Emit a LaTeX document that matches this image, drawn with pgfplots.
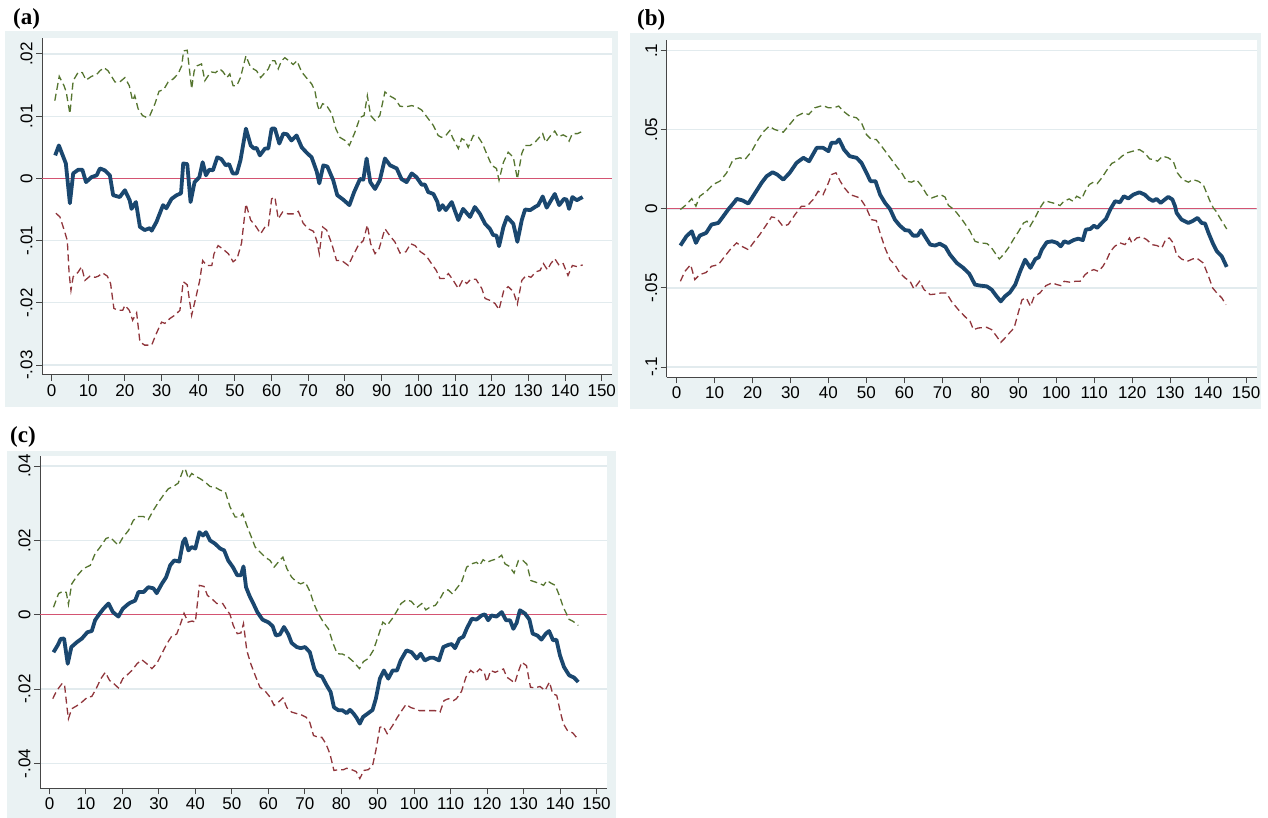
\documentclass[border=0pt]{standalone}
\usepackage{pgfplots}
\pgfplotsset{compat=1.18}
\usepackage{fontspec}
\setmainfont{Liberation Sans}
\newfontfamily\titlefont{Liberation Serif}
\definecolor{bgc}{RGB}{234,242,243}
\definecolor{gridc}{RGB}{226,235,238}
\definecolor{navyc}{RGB}{26,71,111}
\definecolor{greenc}{RGB}{85,117,47}
\definecolor{maroonc}{RGB}{144,53,59}
\definecolor{zeroc}{RGB}{212,84,114}
\definecolor{axisc}{RGB}{70,70,70}
\pgfplotsset{stata/.style={
  scale only axis, anchor=south west,
  axis x line=bottom, axis y line=left,
  axis line style={-, draw=axisc, line width=1pt},
  tick align=outside, major tick length=6pt,
  tick style={draw=axisc, line width=1pt},
  xmin=-2.6, xmax=152.8,
  xtick={0,10,20,30,40,50,60,70,80,90,100,110,120,130,140,150},
  xticklabels={0,10,20,30,40,50,60,70,80,90,100,110,120,130,140,150},
  scaled y ticks=false,
  ymajorgrids, grid style={draw=gridc, line width=1.3pt},
  axis background/.style={fill=white},
  ticklabel style={font=\fontsize{17}{17}\selectfont, text=black},
  yticklabel style={rotate=90, anchor=south},
  mainl/.style={navyc, line width=3.8pt, line join=round, no marks},
  upl/.style={greenc, line width=1.3pt, dash pattern=on 7pt off 4pt, no marks},
  lol/.style={maroonc, line width=1.3pt, dash pattern=on 7pt off 4pt, no marks},
  zerol/.style={zeroc, line width=1.1pt, no marks},
}}
\begin{document}
\begin{tikzpicture}
\path[use as bounding box] (0pt,0pt) rectangle (1268pt,818pt);
\fill[bgc] (5pt,411pt) rectangle (618pt,787pt);
\fill[bgc] (630pt,409pt) rectangle (1261pt,785pt);
\fill[bgc] (7pt,0pt) rectangle (616pt,367pt);
\node[anchor=base west, inner sep=0pt, font=\titlefont\bfseries\fontsize{23}{23}\selectfont] at (13pt,793pt) {(a)};
\node[anchor=base west, inner sep=0pt, font=\titlefont\bfseries\fontsize{23}{23}\selectfont] at (637pt,792pt) {(b)};
\node[anchor=base west, inner sep=0pt, font=\titlefont\bfseries\fontsize{23}{23}\selectfont] at (10pt,375pt) {(c)};

% ---------------- (a)
\begin{axis}[stata, at={(42pt,443pt)}, width=570pt, height=337pt,
  ymin=-0.0316, ymax=0.02257,
  ytick={-0.03,-0.02,-0.01,0,0.01,0.02},
  yticklabels={-.03,-.02,-.01,0,.01,.02}]
\addplot[zerol] coordinates {(-2.6,0) (152.8,0)};
\addplot[upl] coordinates {(0.9,0.0125) (2.1,0.0164) (3.4,0.0149) (4,0.0139) (5,0.0104) (5.9,0.0157) (7.3,0.0171) (8.4,0.017) (9.4,0.0158) (10.9,0.0164) (12.3,0.0167) (13.2,0.0173) (14.3,0.0178) (15.4,0.0173) (17.3,0.0155) (18.6,0.0155) (20,0.0162) (21.2,0.0149) (22.1,0.0125) (22.7,0.0133) (23.6,0.0112) (24.8,0.0101) (25.9,0.0098) (26.8,0.0101) (28.2,0.012) (29.3,0.014) (30.6,0.0143) (31.8,0.0155) (33.2,0.016) (34.5,0.0168) (35.5,0.0181) (36,0.0205) (37,0.0206) (38.2,0.0144) (38.9,0.0173) (39.7,0.0181) (40.9,0.0184) (41.8,0.0157) (42.7,0.0165) (43.6,0.0171) (44.7,0.017) (45.9,0.0176) (46.8,0.0171) (47.8,0.0162) (48.6,0.0168) (49.5,0.0149) (50.5,0.0149) (51.5,0.0162) (53,0.0197) (54.1,0.0181) (55,0.0176) (55.9,0.0173) (57,0.0162) (58.2,0.017) (59.1,0.0176) (60,0.0189) (60.9,0.0189) (61.8,0.0176) (62.7,0.0189) (63.6,0.0194) (64.5,0.019) (65.9,0.0183) (66.9,0.0189) (68.2,0.0171) (69.6,0.0161) (70.9,0.0152) (71.8,0.0141) (72.5,0.0118) (73,0.0109) (73.9,0.012) (74.9,0.0118) (76.4,0.0104) (77.5,0.008) (78.6,0.0066) (80,0.0061) (81.2,0.0053) (82.7,0.0074) (84.1,0.0098) (85.2,0.0101) (86.1,0.0133) (87,0.0101) (88.2,0.0093) (89.5,0.0101) (90.9,0.0139) (92.1,0.0133) (93.6,0.0128) (95,0.0116) (96.6,0.0115) (98.2,0.0117) (99.5,0.0115) (100.9,0.011) (102.7,0.0096) (104.1,0.0085) (105.4,0.0069) (106.3,0.0066) (107.5,0.0069) (108.6,0.0077) (109.3,0.0066) (110.9,0.0048) (111.8,0.0064) (112.7,0.0061) (113.6,0.005) (115,0.0069) (116.4,0.0066) (117.5,0.0056) (118.6,0.004) (120,0.0021) (121.3,0.0016) (122,-0.0003) (123.2,0.0026) (124.5,0.0042) (125.9,0.0034) (127,-0.0001) (128.2,0.004) (129.1,0.0053) (130.5,0.0053) (131.8,0.0058) (133,0.0066) (133.9,0.0072) (134.7,0.0058) (136.1,0.0069) (137.2,0.0076) (138.1,0.0067) (139.5,0.007) (140.4,0.0067) (141.1,0.006) (142,0.0072) (143.4,0.0072) (144.5,0.0075)};
\addplot[lol] coordinates {(1.2,-0.0056) (2.3,-0.0062) (3.6,-0.0086) (4.3,-0.01) (4.8,-0.0153) (5.3,-0.018) (5.9,-0.0158) (7.2,-0.0151) (8.2,-0.0142) (9.1,-0.0164) (10.5,-0.0157) (11.9,-0.0159) (12.8,-0.0157) (13.9,-0.0152) (15.2,-0.0157) (16.1,-0.0169) (17,-0.0209) (18.2,-0.0212) (19.4,-0.0212) (20,-0.0204) (21.2,-0.0212) (22.1,-0.0228) (23.2,-0.0216) (24.1,-0.0263) (25.4,-0.0268) (27.3,-0.0268) (28.6,-0.0249) (30,-0.0231) (30.9,-0.0233) (32.3,-0.0225) (33.6,-0.022) (35,-0.0212) (35.9,-0.0166) (37,-0.0171) (38.2,-0.022) (39.4,-0.019) (40.4,-0.0164) (41.2,-0.0132) (42.3,-0.014) (43.7,-0.014) (44.3,-0.0121) (45.4,-0.0108) (46.6,-0.0113) (48.2,-0.0121) (49.5,-0.0134) (50.6,-0.0129) (51.8,-0.0104) (53,-0.0041) (54.3,-0.0067) (55.8,-0.0078) (57,-0.0089) (58.2,-0.0078) (59.1,-0.0078) (60,-0.0033) (60.9,-0.003) (61.8,-0.0065) (63,-0.0054) (64.5,-0.0057) (65.9,-0.0057) (67.3,-0.0053) (68.6,-0.0072) (70,-0.0081) (71.4,-0.0085) (72.3,-0.01) (73,-0.0121) (73.9,-0.0078) (75,-0.0083) (76.4,-0.0105) (77.7,-0.0132) (79.1,-0.0132) (80.9,-0.014) (82.2,-0.0124) (83.6,-0.0108) (85,-0.01) (86.1,-0.0075) (87,-0.0105) (88.2,-0.0121) (89.3,-0.0113) (90.9,-0.0081) (92.1,-0.0091) (93.6,-0.0102) (95,-0.012) (96.6,-0.0118) (97.9,-0.0105) (99.1,-0.0108) (100.6,-0.0118) (102.1,-0.0124) (103.6,-0.0137) (104.9,-0.0148) (105.9,-0.0161) (107,-0.0161) (108.2,-0.0153) (109.3,-0.0162) (110.9,-0.0177) (112.1,-0.0163) (113.2,-0.0169) (114.3,-0.0162) (115.7,-0.0162) (117.3,-0.0177) (118.2,-0.0193) (119.5,-0.0196) (120.9,-0.0201) (122,-0.0211) (123.3,-0.018) (124.5,-0.0174) (125.9,-0.0182) (127,-0.0202) (128.2,-0.0164) (129.4,-0.0156) (130.7,-0.0159) (132.1,-0.015) (133.2,-0.0148) (134.1,-0.0137) (135.2,-0.0147) (136.1,-0.0137) (137.2,-0.0129) (138.4,-0.014) (139.5,-0.0137) (140.8,-0.0156) (142,-0.014) (143.4,-0.0142) (144.8,-0.0139)};
\addplot[mainl] coordinates {(1,0.0037) (2,0.0053) (3.9,0.0024) (5,-0.004) (5.9,0.0008) (7.3,0.0014) (8.4,0.0014) (9.4,-0.0006) (10.9,0.0002) (12.3,0.0005) (13.2,0.0016) (14.5,0.0013) (15.9,0.0005) (16.8,-0.0027) (18.6,-0.003) (20,-0.0019) (21.3,-0.0035) (21.8,-0.0049) (23,-0.0038) (24.1,-0.0078) (25.4,-0.0083) (26.8,-0.008) (27.3,-0.0084) (28.6,-0.007) (30.4,-0.0043) (31.3,-0.0048) (32.7,-0.0033) (34.1,-0.0027) (35.3,-0.0024) (35.9,0.0024) (37,0.0023) (37.9,-0.0038) (39,-0.0006) (40.3,0.0002) (41.2,0.0026) (42.1,0.0005) (43,0.0014) (44,0.0013) (45.2,0.0034) (46.3,0.0031) (47.5,0.0021) (48.4,0.0023) (49.4,0.0008) (50.5,0.0008) (51.5,0.0029) (53,0.008) (54.3,0.0053) (55.2,0.0048) (55.9,0.0049) (56.8,0.0037) (58.2,0.0048) (59.1,0.0048) (60,0.008) (60.9,0.008) (62.1,0.0056) (63.2,0.0072) (64.2,0.0071) (65.4,0.0061) (66.8,0.0069) (68.2,0.005) (69.6,0.0041) (70.9,0.0034) (72.3,0.0011) (73,-0.0008) (74.1,0.0021) (75.2,0.0019) (76.8,-0.0003) (77.9,-0.0027) (79.5,-0.0034) (81.2,-0.0043) (82.5,-0.0022) (84.1,-0.0001) (85,-0.0002) (85.9,0.0032) (86.9,-0.0006) (88.2,-0.0017) (89.5,-0.0003) (90.9,0.0032) (92.3,0.0021) (94.1,0.0016) (95.4,-0.0001) (96.8,-0.0006) (98.2,0.0008) (99.5,0.0002) (100.9,-0.001) (101.8,-0.001) (102.7,-0.0022) (104.1,-0.0025) (105.2,-0.0038) (105.7,-0.0051) (106.6,-0.0043) (107.5,-0.0051) (109.1,-0.0038) (110.9,-0.0067) (112.2,-0.0049) (114.1,-0.0062) (115.4,-0.0046) (116.8,-0.0057) (118.2,-0.0073) (119.5,-0.0081) (120.4,-0.0091) (121.3,-0.0092) (122,-0.0109) (123.2,-0.0078) (124.2,-0.0062) (125.9,-0.0073) (127,-0.0102) (128.2,-0.0067) (129.1,-0.005) (130.5,-0.0051) (131.8,-0.0046) (132.7,-0.0043) (133.9,-0.0029) (135,-0.0047) (136.1,-0.0036) (137.2,-0.0025) (138.4,-0.0043) (139.7,-0.0033) (140.4,-0.0034) (141.1,-0.0049) (142,-0.003) (143.2,-0.0035) (144.8,-0.003)};
\end{axis}

% ---------------- (b)
\begin{axis}[stata, at={(666.7pt,440.7pt)}, width=590pt, height=337.3pt,
  ymin=-0.1065, ymax=0.1068,
  ytick={-0.1,-0.05,0,0.05,0.1},
  yticklabels={-.1,-.05,0,.05,.1}]
\addplot[zerol] coordinates {(-2.6,0) (152.8,0)};
\addplot[upl] coordinates {(1,-0.0004) (2.6,0.0027) (4,0.0065) (5.1,0.0017) (6.1,0.008) (7.9,0.0111) (9.6,0.0154) (11.4,0.0175) (13.2,0.0228) (14.9,0.0312) (16.7,0.0323) (18,0.0312) (19.8,0.0365) (21.5,0.0439) (23,0.0491) (24.4,0.0523) (25.8,0.0502) (28.1,0.0485) (29.8,0.0534) (31.6,0.0586) (33.4,0.0607) (34.8,0.0597) (36.4,0.0639) (38.5,0.0654) (40,0.0639) (41.4,0.0639) (42.7,0.065) (43.9,0.0618) (45.6,0.0586) (47.4,0.0576) (48.7,0.0544) (50,0.047) (51.3,0.0439) (52.6,0.0439) (54,0.0396) (55.3,0.0354) (56.6,0.0312) (57.9,0.027) (59.3,0.0228) (60.6,0.0175) (61.9,0.0169) (63.2,0.0185) (64.6,0.0143) (65.9,0.009) (67.2,0.0069) (68.5,0.008) (69.5,0.009) (70.7,0.0075) (71.6,0.0022) (72.4,0.0008) (73.8,-0.0025) (75.5,-0.0078) (77.3,-0.0142) (78.6,-0.0205) (79.9,-0.0215) (81.7,-0.0219) (82.7,-0.0237) (84,-0.0283) (85,-0.0317) (86.1,-0.0289) (87.4,-0.0247) (88.7,-0.0194) (90.1,-0.0142) (91.4,-0.0089) (92.3,-0.0078) (93.1,-0.011) (94.4,-0.0057) (95.7,0.0006) (97,0.0052) (98.4,0.0042) (99.7,0.0034) (101,0.0021) (102,0.0048) (103.4,0.0063) (104.4,0.0048) (105.4,0.008) (106.7,0.0063) (107.6,0.0111) (108.7,0.0154) (109.8,0.0169) (110.8,0.016) (112,0.0196) (113.3,0.0244) (114.6,0.0287) (115.9,0.0302) (117.3,0.0333) (118.6,0.0354) (120.2,0.0365) (121.9,0.0375) (123.3,0.0354) (124.6,0.0316) (125.6,0.0312) (126.7,0.0302) (128,0.0333) (129.5,0.0323) (130.8,0.0302) (131.9,0.0228) (133.3,0.0185) (134.8,0.0169) (136,0.0185) (137.4,0.0175) (138.7,0.0154) (139.6,0.0101) (140.5,0.0048) (141.4,0.0005) (142.1,-0.0015) (143.1,-0.0057) (144.9,-0.0127)};
\addplot[lol] coordinates {(1,-0.0458) (2.2,-0.0395) (3.7,-0.0353) (4.8,-0.0447) (6.1,-0.0416) (7.8,-0.0402) (9.2,-0.0363) (11,-0.0353) (12.7,-0.03) (14.1,-0.0258) (15.8,-0.0215) (17.2,-0.0237) (18.9,-0.0258) (20.2,-0.0215) (21.9,-0.0163) (23.7,-0.0099) (25,-0.0051) (26.3,-0.0057) (28,-0.011) (29.4,-0.0099) (31.2,-0.0036) (32.9,0.0017) (34.4,0.0017) (35.5,0.0048) (36,0.0059) (37.3,0.0111) (38.6,0.009) (40,0.0165) (40.8,0.0217) (42,0.0228) (43.1,0.0175) (44.2,0.0133) (45.7,0.009) (47,0.008) (48.3,0.0069) (49.9,0.001) (51.3,-0.0068) (52.6,-0.0074) (53.6,-0.0152) (54.9,-0.0247) (56.2,-0.0321) (57.5,-0.0353) (58.8,-0.0405) (60.2,-0.0437) (61.5,-0.0458) (62.5,-0.0506) (64,-0.0458) (65.2,-0.0511) (66.8,-0.0542) (68.5,-0.0538) (69.6,-0.0532) (71.1,-0.0532) (72.4,-0.0585) (74.2,-0.0637) (75.9,-0.068) (77.3,-0.0711) (78.2,-0.0764) (79.5,-0.0753) (81.7,-0.0749) (83,-0.0764) (84.3,-0.0806) (85.4,-0.0844) (86.5,-0.0817) (87.8,-0.0781) (88.9,-0.0753) (90.1,-0.0648) (91,-0.0574) (92.1,-0.0563) (93.2,-0.0616) (94.2,-0.0553) (95.7,-0.0532) (97.3,-0.0485) (98.9,-0.0468) (100.2,-0.0479) (101.2,-0.0485) (102.1,-0.0458) (103.7,-0.0464) (105,-0.0458) (106.3,-0.0458) (107.6,-0.0416) (108.7,-0.0395) (109.9,-0.0384) (111.1,-0.0395) (112.3,-0.0363) (113.3,-0.0321) (114.3,-0.0268) (115.4,-0.0237) (116.8,-0.0215) (118.1,-0.0226) (119.3,-0.0184) (119.9,-0.0215) (121.2,-0.0184) (122.5,-0.0177) (123.8,-0.0194) (125.2,-0.0226) (126.5,-0.0232) (127.8,-0.0247) (128.9,-0.019) (129.8,-0.0184) (130.8,-0.0215) (131.7,-0.0289) (133,-0.0317) (134.5,-0.0332) (135.9,-0.0317) (137,-0.0311) (138.7,-0.0342) (140.1,-0.0426) (141.2,-0.05) (142.3,-0.0532) (143.6,-0.0563) (144.7,-0.0606)};
\addplot[mainl] coordinates {(1,-0.0232) (2.6,-0.0173) (4,-0.0142) (5.1,-0.0215) (6.1,-0.0169) (7.8,-0.0152) (9.2,-0.0099) (11,-0.0089) (12.3,-0.0047) (13.6,-0.0004) (15.4,0.0048) (15.8,0.0063) (17.3,0.0054) (18.9,0.0034) (20.7,0.0101) (22.4,0.0165) (23.7,0.0206) (25.3,0.0232) (26.5,0.0217) (28.1,0.0185) (29.8,0.0228) (31.6,0.0291) (33.4,0.0323) (34.9,0.0301) (36.9,0.0386) (38.6,0.0386) (40,0.0365) (40.8,0.0418) (42,0.0418) (42.8,0.0439) (44.1,0.0375) (45.6,0.0333) (47.4,0.0323) (48.7,0.0291) (50,0.0228) (51.1,0.0175) (52.4,0.0175) (53.6,0.009) (54.9,0.0038) (56.2,0) (57.5,-0.0068) (58.8,-0.0106) (60.2,-0.0135) (61.2,-0.0137) (62.3,-0.0169) (63.5,-0.0169) (64.4,-0.0135) (65.5,-0.0177) (66.8,-0.0226) (68.1,-0.0232) (69.3,-0.022) (70.8,-0.024) (72,-0.0289) (73.8,-0.0342) (75.5,-0.0373) (77.1,-0.041) (78.6,-0.0479) (79.9,-0.0485) (81.7,-0.049) (83,-0.0511) (84.3,-0.0553) (85.4,-0.0585) (86.5,-0.0553) (87.8,-0.0528) (89.2,-0.0479) (90.5,-0.0395) (91.8,-0.0321) (93.2,-0.0373) (94.5,-0.0317) (95.4,-0.0306) (96.2,-0.0258) (97.5,-0.0211) (98.9,-0.0205) (100.2,-0.0215) (101.2,-0.0237) (102.1,-0.0205) (103.2,-0.0215) (104.5,-0.0198) (105.8,-0.0188) (107,-0.0198) (107.8,-0.0131) (109,-0.0127) (109.9,-0.0106) (110.8,-0.012) (112,-0.0089) (113.1,-0.0063) (114.3,0) (115.5,0.0048) (116.8,0.0042) (117.8,0.008) (119,0.0066) (120.3,0.009) (121.9,0.0105) (123.3,0.009) (124.5,0.0063) (125.5,0.005) (126.4,0.0063) (127.5,0.0038) (128.6,0.0059) (129.5,0.0076) (130.6,0.0059) (131.3,0.0016) (131.7,-0.0025) (133,-0.0068) (134.8,-0.0089) (136,-0.0076) (137.2,-0.0057) (138.3,-0.0089) (139.2,-0.0093) (140.1,-0.0152) (141.2,-0.0215) (142.3,-0.0268) (143.6,-0.03) (144.9,-0.0367)};
\end{axis}

% ---------------- (c)
\begin{axis}[stata, at={(40pt,29.7pt)}, width=566.7pt, height=332.3pt,
  ymin=-0.0467, ymax=0.0427,
  ytick={-0.04,-0.02,0,0.02,0.04},
  yticklabels={-.04,-.02,0,.02,.04}]
\addplot[zerol] coordinates {(-2.6,0) (152.8,0)};
\addplot[upl] coordinates {(1.1,0.002) (2.5,0.0057) (3.7,0.0063) (4.6,0.006) (5.2,0.0028) (6.1,0.0083) (7.7,0.0106) (9.3,0.0124) (11.2,0.0133) (12.5,0.0164) (13.9,0.0182) (15.5,0.0205) (16.6,0.0209) (17.9,0.0196) (18.9,0.0187) (20.2,0.0209) (21.7,0.0227) (23,0.0254) (24.4,0.0264) (25.8,0.0264) (27.1,0.0256) (28.5,0.0281) (29.9,0.0303) (31.2,0.0321) (32.6,0.0339) (34,0.0345) (35.3,0.0354) (36.6,0.0388) (37.2,0.0393) (38.1,0.0366) (39,0.038) (40.2,0.0372) (41.3,0.0366) (42.7,0.0357) (44,0.0345) (45.4,0.0343) (46.8,0.0335) (48.2,0.0331) (49.5,0.029) (50.9,0.0263) (52.3,0.0263) (53,0.0272) (54.1,0.024) (55.2,0.0213) (56.4,0.0182) (57.7,0.0169) (59.1,0.0155) (60.5,0.0146) (61.6,0.0128) (62.8,0.0142) (64,0.0155) (65.1,0.0124) (66.4,0.0101) (67.8,0.0088) (68.9,0.0083) (70.1,0.0088) (71.4,0.0063) (72.5,0.003) (73.6,0.0005) (75.1,-0.002) (76.5,-0.0038) (77.8,-0.0078) (78.9,-0.0105) (80.4,-0.0106) (81.9,-0.0114) (83.3,-0.0126) (85,-0.0145) (86.1,-0.0126) (87.4,-0.0118) (88.8,-0.0096) (90.2,-0.0056) (91.4,-0.002) (92.6,-0.0029) (94.1,-0.0009) (95.4,0.0012) (96.4,0.003) (97.8,0.004) (99.2,0.0036) (100.7,0.0019) (102.1,0.003) (103.2,0.0013) (104.6,0.0022) (105.8,0.0025) (107.1,0.0043) (108.1,0.0061) (109.3,0.0067) (110.5,0.0056) (111.6,0.007) (113,0.0088) (114.4,0.0128) (115.8,0.0137) (117.1,0.0141) (118,0.0133) (118.9,0.0148) (120,0.0141) (121.2,0.0146) (122.6,0.015) (124,0.016) (124.9,0.0137) (126.1,0.013) (127.4,0.0112) (128.6,0.0146) (129.8,0.0146) (130.9,0.0136) (132,0.0092) (133.2,0.0088) (134.6,0.0083) (135.5,0.0079) (136.4,0.0092) (137.5,0.0085) (138.7,0.0079) (139.8,0.0052) (140.9,0.002) (141.8,0.0002) (142.2,-0.0011) (143.6,-0.0018) (145,-0.0029)};
\addplot[lol] coordinates {(0.9,-0.0226) (2,-0.0204) (3.4,-0.0186) (4.1,-0.0186) (4.8,-0.0249) (5.2,-0.028) (6.1,-0.0253) (7.5,-0.0245) (8.9,-0.0235) (10.4,-0.0222) (11.6,-0.022) (12.8,-0.0199) (14.1,-0.0172) (15.3,-0.0155) (16.5,-0.0177) (17.7,-0.0186) (18.9,-0.0197) (20.1,-0.0172) (21.2,-0.0163) (22.6,-0.015) (24,-0.0132) (25.3,-0.0121) (26.7,-0.0132) (28.1,-0.0145) (29.5,-0.013) (30.8,-0.0105) (32.2,-0.0078) (33.5,-0.0058) (34.9,-0.0052) (36.1,-0.002) (36.9,0.0004) (38,-0.002) (39.1,-0.0017) (40,-0.002) (41.1,0.0079) (42.4,0.0076) (43.3,0.0052) (44.5,0.0043) (45.9,0.003) (47.5,0.003) (48.6,0.0013) (49.5,0.0001) (50.4,-0.0029) (51.5,-0.0051) (52.5,-0.0049) (53.2,-0.0024) (54.1,-0.0096) (55.2,-0.0132) (56.4,-0.0163) (57.7,-0.0195) (59.1,-0.0205) (60.5,-0.0222) (61.6,-0.0244) (62.8,-0.0235) (64,-0.0224) (65.1,-0.025) (66.4,-0.0262) (67.8,-0.0266) (69.2,-0.027) (70.4,-0.0276) (71.4,-0.029) (72.4,-0.0325) (73.8,-0.033) (74.7,-0.033) (75.8,-0.0347) (76.9,-0.0374) (78,-0.0419) (79.2,-0.0417) (80.6,-0.0417) (81.5,-0.0413) (82.9,-0.0417) (84.1,-0.0422) (85.1,-0.0441) (86.2,-0.0419) (87.4,-0.0417) (88.6,-0.0406) (89.5,-0.0365) (90.6,-0.0303) (91.5,-0.03) (92.6,-0.032) (94.1,-0.0298) (95.4,-0.0276) (96.6,-0.0258) (97.8,-0.0241) (99.1,-0.025) (100.2,-0.0253) (101.4,-0.0258) (102.7,-0.0258) (104.2,-0.0258) (105.7,-0.0258) (107.1,-0.0262) (108.2,-0.0231) (109.4,-0.0226) (110.8,-0.0231) (111.6,-0.0226) (113,-0.0206) (114.2,-0.0168) (115.5,-0.015) (116.7,-0.0159) (118,-0.0146) (119.2,-0.0155) (119.9,-0.0181) (121,-0.015) (122.2,-0.0155) (123.4,-0.015) (124.5,-0.0146) (125.4,-0.0168) (126.7,-0.0177) (127.6,-0.0184) (128.5,-0.0155) (129.5,-0.0128) (130.8,-0.0137) (131.9,-0.0195) (133.1,-0.0197) (134.5,-0.0193) (135.9,-0.0204) (137.1,-0.0181) (138,-0.0213) (139.1,-0.0217) (140,-0.0258) (140.9,-0.0293) (142,-0.0311) (143.5,-0.0318) (145,-0.0336)};
\addplot[mainl] coordinates {(1.1,-0.0101) (2.2,-0.0083) (3.1,-0.0065) (4,-0.0064) (5,-0.0132) (6,-0.0087) (7.5,-0.0074) (8.9,-0.0064) (10.4,-0.0047) (11.6,-0.0044) (12.5,-0.0015) (13.4,-0.0002) (14.8,0.0016) (16.2,0.003) (17.4,0.0007) (18.9,-0.0005) (20.1,0.0016) (21.5,0.0028) (22.1,0.0032) (23.5,0.0038) (24.4,0.0061) (25.8,0.0061) (27.1,0.0074) (28.5,0.0071) (29.4,0.0058) (30.8,0.0083) (32,0.0101) (33.1,0.0133) (34.2,0.0146) (35.6,0.0143) (36.6,0.0195) (37.2,0.0205) (38.1,0.0173) (39,0.0182) (40,0.0178) (41.1,0.0222) (42.1,0.0213) (42.9,0.0222) (44,0.02) (45.4,0.0191) (46.8,0.0178) (47.9,0.0173) (49,0.0146) (50.3,0.0128) (51.5,0.0106) (52.5,0.0106) (53.2,0.013) (53.9,0.0074) (54.8,0.0052) (55.9,0.003) (57,0.0007) (58.4,-0.0013) (60.1,-0.0021) (61.2,-0.0031) (62.1,-0.0056) (63.2,-0.0053) (64.3,-0.0033) (65.5,-0.0053) (66.4,-0.0076) (67.8,-0.0087) (68.9,-0.009) (70.1,-0.0087) (71.4,-0.0101) (72.6,-0.0145) (73.5,-0.0162) (74.7,-0.0166) (76,-0.019) (77.1,-0.0208) (78,-0.0249) (79.2,-0.0257) (80.3,-0.0257) (81.5,-0.0265) (82.4,-0.0256) (83.3,-0.0265) (84.2,-0.0277) (85.1,-0.0293) (86,-0.0275) (87.4,-0.0265) (88.6,-0.0256) (89.5,-0.0226) (90.6,-0.0172) (91.7,-0.015) (92.9,-0.0172) (94.1,-0.015) (95.3,-0.015) (96.3,-0.0123) (97.9,-0.0096) (99.3,-0.0101) (100.7,-0.0118) (101.8,-0.0105) (102.9,-0.0123) (104.3,-0.0116) (105.4,-0.0116) (106.8,-0.0123) (108,-0.0087) (109.4,-0.0081) (110.3,-0.0079) (111.2,-0.009) (112.4,-0.0065) (113.5,-0.0059) (114.4,-0.0038) (115.8,-0.0011) (117.1,-0.0013) (118.5,-0.0002) (119.4,0.0001) (120.3,-0.0015) (121.2,-0.0002) (122.6,-0.0005) (124,0.0007) (125.2,-0.0015) (126.3,-0.0015) (127.2,-0.0038) (128.1,-0.0022) (129,0.0012) (130.4,0.0003) (131.6,-0.0013) (132.5,-0.0051) (133.8,-0.0056) (134.9,-0.0067) (136.1,-0.0051) (137,-0.0044) (138.1,-0.0069) (139,-0.0067) (140,-0.011) (141.1,-0.0141) (142.5,-0.0163) (143.8,-0.0169) (145,-0.0181)};
\end{axis}
\end{tikzpicture}
\end{document}
